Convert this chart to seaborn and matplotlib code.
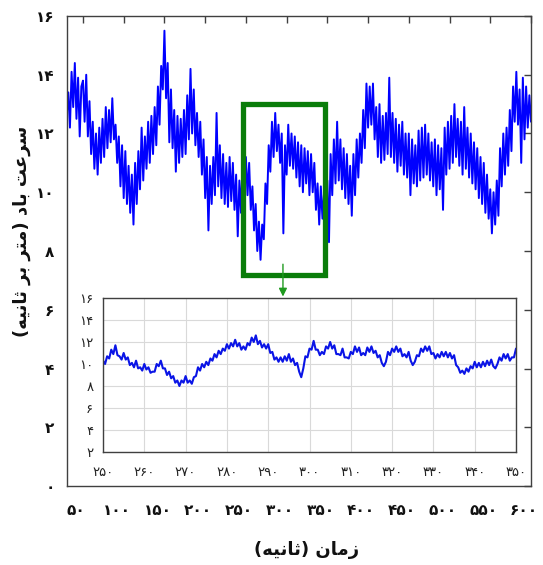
import numpy as np
import pandas as pd
import matplotlib
matplotlib.use("Agg")
import matplotlib.pyplot as plt
import matplotlib.transforms as mtransforms
from matplotlib.patches import Rectangle
from matplotlib.ticker import FuncFormatter, FixedLocator
import seaborn as sns

# Wind speed record (m/s), one sample every 2 s starting at t = 30 s
time_start, time_step = 30, 2
wind_speed = [
    12.6, 13.4, 12.2, 14.1, 12.9, 14.4, 12.5, 13.9, 11.9, 13.6,
    13.8, 12.4, 14.0, 11.9, 13.1, 11.3, 12.4, 10.8, 12.0, 10.6,
    12.2, 11.0, 12.5, 11.2, 12.9, 11.5, 12.8, 11.7, 13.2, 11.8,
    12.3, 11.0, 11.9, 10.2, 11.6, 9.8, 11.4, 9.6, 10.9, 9.3,
    10.6, 8.9, 11.0, 9.6, 11.4, 10.1, 12.2, 10.4, 11.9, 10.8,
    12.4, 11.0, 12.6, 11.3, 12.9, 11.6, 13.6, 12.3, 14.3, 13.5,
    15.5, 13.2, 14.4, 11.7, 13.5, 11.5, 12.8, 10.7, 12.6, 11.0,
    12.5, 11.2, 12.8, 11.3, 13.3, 11.8, 14.2, 12.0, 13.5, 11.6,
    12.7, 11.2, 12.4, 10.6, 11.8, 9.8, 11.2, 8.7, 10.9, 9.6,
    11.2, 9.9, 12.7, 10.2, 11.6, 9.8, 11.3, 9.6, 11.0, 9.5,
    11.2, 9.7, 11.0, 9.4, 10.6, 8.5, 10.4, 9.3, 11.1, 9.6,
    11.2, 9.9, 11.0, 9.4, 10.2, 8.7, 9.6, 8.0, 9.0, 7.7,
    8.9, 8.4, 10.3, 9.6, 11.6, 10.7, 12.4, 11.2, 12.7, 11.4,
    12.3, 11.0, 12.0, 8.6, 11.6, 10.6, 12.3, 10.9, 12.0, 10.8,
    11.9, 10.5, 11.7, 10.2, 11.6, 10.0, 11.5, 10.3, 11.4, 9.9,
    11.3, 10.0, 11.0, 9.4, 10.3, 8.9, 10.2, 9.1, 10.0, 8.8,
    10.4, 8.3, 11.3, 9.9, 11.8, 10.3, 12.4, 10.4, 11.8, 10.1,
    11.5, 9.8, 11.3, 9.6, 10.9, 9.2, 11.3, 9.9, 11.8, 10.5,
    12.0, 11.0, 12.8, 11.5, 13.7, 12.2, 13.6, 12.3, 13.7, 11.8,
    12.9, 11.2, 13.0, 11.0, 12.6, 11.1, 12.7, 11.3, 13.9, 11.2,
    12.7, 11.0, 12.5, 10.7, 12.3, 10.9, 12.4, 10.6, 12.0, 10.5,
    12.0, 9.9, 11.8, 10.3, 11.6, 10.2, 12.1, 10.4, 12.2, 10.5,
    12.3, 10.6, 12.0, 10.4, 11.7, 10.2, 11.8, 9.9, 11.6, 10.1,
    11.5, 9.4, 12.2, 10.6, 12.4, 10.8, 12.6, 11.0, 13.0, 11.2,
    12.5, 10.9, 12.4, 10.6, 12.9, 10.8, 12.2, 10.5, 12.0, 10.3,
    11.7, 10.1, 11.5, 9.8, 11.2, 9.6, 11.0, 9.3, 10.6, 9.1,
    10.1, 8.6, 10.0, 8.9, 10.4, 9.2, 11.5, 10.2, 12.0, 10.6,
    12.2, 10.9, 12.8, 11.4, 13.6, 12.4, 14.1, 12.3, 13.5, 11.0,
    13.9, 11.8, 13.6, 12.2, 13.3, 12.4,
]

# Detailed record between 250 s and 350 s, sampled every 0.5 s
zoom_start, zoom_step = 250, 0.5
zoom_speed = [
    10.3, 10.0, 10.7, 10.5, 11.3, 10.9, 11.7, 10.8, 10.7, 10.4,
    11.0, 10.4, 10.6, 9.9, 10.1, 9.7, 10.3, 9.6, 9.7, 9.4,
    10.0, 9.5, 9.7, 9.2, 9.3, 9.3, 10.0, 9.8, 10.3, 9.6,
    9.6, 9.0, 9.3, 8.7, 8.9, 8.3, 8.5, 8.0, 8.5, 8.3,
    8.9, 8.3, 8.5, 8.2, 8.8, 8.9, 9.7, 9.4, 10.0, 9.7,
    10.2, 9.9, 10.5, 10.3, 10.9, 10.6, 11.2, 10.9, 11.4, 11.2,
    11.8, 11.4, 11.9, 11.6, 12.2, 11.6, 11.9, 11.3, 11.6, 11.3,
    11.9, 11.7, 12.4, 12.0, 12.6, 11.8, 12.1, 11.5, 11.8, 11.4,
    11.8, 11.0, 11.1, 10.4, 10.6, 10.2, 10.6, 10.2, 10.7, 10.3,
    10.9, 10.2, 10.5, 9.9, 10.1, 9.3, 8.8, 9.6, 10.7, 10.6,
    11.4, 11.3, 12.1, 11.3, 11.3, 10.8, 11.1, 10.9, 11.6, 11.4,
    12.0, 11.4, 11.7, 10.9, 10.9, 10.8, 11.4, 10.6, 10.6, 10.5,
    11.1, 10.9, 11.6, 11.1, 11.5, 10.8, 11.0, 10.8, 11.5, 11.1,
    11.6, 11.0, 11.2, 10.6, 10.8, 10.1, 9.8, 10.2, 11.1, 10.8,
    11.4, 11.1, 11.6, 11.1, 11.4, 10.7, 10.9, 10.6, 11.1, 10.3,
    9.9, 10.2, 10.8, 10.7, 11.4, 11.1, 11.6, 11.2, 11.6, 10.9,
    11.0, 10.5, 10.9, 10.6, 11.1, 10.7, 11.1, 10.6, 11.0, 10.5,
    10.8, 9.9, 9.7, 9.2, 9.4, 9.1, 9.6, 9.3, 9.8, 9.6,
    10.2, 9.7, 10.1, 9.7, 10.2, 9.8, 10.3, 9.9, 10.4, 9.8,
    9.6, 10.0, 10.6, 10.3, 10.9, 10.5, 10.9, 10.3, 10.6, 10.6,
    11.4,
]

main_xticks = [50, 100, 150, 200, 250, 300, 350, 400, 450, 500, 550, 600]
main_yticks = [0, 2, 4, 6, 8, 10, 12, 14, 16]
zoom_xticks = [250, 260, 270, 280, 290, 300, 310, 320, 330, 340, 350]
zoom_yticks = [2, 4, 6, 8, 10, 12, 14, 16]

# highlighted window on the full record
box_x = (247, 347)
box_y = (7.2, 13.0)

x_title = "زمان (ثانیه)"
y_title = "سرعت باد (متر بر ثانیه)"

# ---------------------------------------------------------------- helpers
PERSIAN_DIGITS = str.maketrans("0123456789", "۰۱۲۳۴۵۶۷۸۹")


def fa_num(v, _pos=None):
    return str(int(round(v))).translate(PERSIAN_DIGITS)


# contextual glyphs: isolated, final, initial, medial
FORMS = {
    "ا": ("\uFE8D", "\uFE8E"),
    "د": ("\uFEA9", "\uFEAA"),
    "ر": ("\uFEAD", "\uFEAE"),
    "ز": ("\uFEAF", "\uFEB0"),
    "ب": ("\uFE8F", "\uFE90", "\uFE91", "\uFE92"),
    "ت": ("\uFE95", "\uFE96", "\uFE97", "\uFE98"),
    "ث": ("\uFE99", "\uFE9A", "\uFE9B", "\uFE9C"),
    "س": ("\uFEB1", "\uFEB2", "\uFEB3", "\uFEB4"),
    "ع": ("\uFEC9", "\uFECA", "\uFECB", "\uFECC"),
    "م": ("\uFEE1", "\uFEE2", "\uFEE3", "\uFEE4"),
    "ن": ("\uFEE5", "\uFEE6", "\uFEE7", "\uFEE8"),
    "ه": ("\uFEE9", "\uFEEA", "\uFEEB", "\uFEEC"),
    "ی": ("\uFBFC", "\uFBFD", "\uFEF3", "\uFEF4"),
}


def rtl(text):
    """Shape Persian letters and lay the line out left to right."""
    out = []
    for i, ch in enumerate(text):
        if ch not in FORMS:
            out.append(ch)
            continue
        prev = text[i - 1] if i > 0 else ""
        nxt = text[i + 1] if i + 1 < len(text) else ""
        join_prev = prev in FORMS and len(FORMS[prev]) == 4
        join_next = len(FORMS[ch]) == 4 and nxt in FORMS
        forms = FORMS[ch]
        if join_prev and join_next:
            out.append(forms[3])
        elif join_prev:
            out.append(forms[1])
        elif join_next:
            out.append(forms[2])
        else:
            out.append(forms[0])
    visual = "".join(reversed(out))
    return visual.translate(str.maketrans("()", ")("))


# ---------------------------------------------------------------- data frames
full = pd.DataFrame({
    "t": time_start + time_step * np.arange(len(wind_speed)),
    "speed": wind_speed,
})
detail = pd.DataFrame({
    "t": zoom_start + zoom_step * np.arange(len(zoom_speed)),
    "speed": zoom_speed,
})

# ---------------------------------------------------------------- figure
sns.set_theme(style="white")
plt.rcParams["font.family"] = ["DejaVu Sans"]

fig = plt.figure(figsize=(5.43, 5.65), dpi=100)
ax = fig.add_axes([0.1234, 0.1398, 0.8545, 0.8319])

sns.lineplot(data=full, x="t", y="speed", ax=ax, color="#0000ff",
             linewidth=1.4, estimator=None)
ax.set_xlim(30.4, 600)
ax.set_ylim(0, 16)
ax.xaxis.set_major_locator(FixedLocator(main_xticks))
ax.yaxis.set_major_locator(FixedLocator(main_yticks))
ax.xaxis.set_major_formatter(FuncFormatter(fa_num))
ax.yaxis.set_major_formatter(FuncFormatter(fa_num))
ax.tick_params(direction="in", length=5, width=1, color="#404040",
               top=True, right=True, labelsize=11, labelcolor="#111111")
ax.tick_params(axis="x", pad=12)
ax.tick_params(axis="y", pad=9)
shift_left = mtransforms.ScaledTranslation(-5 / 72, 0, fig.dpi_scale_trans)
for tick in ax.xaxis.get_major_ticks():
    tick.label1.set_transform(tick.label1.get_transform() + shift_left)
for lab in ax.get_xticklabels() + ax.get_yticklabels():
    lab.set_fontweight("bold")
for sp in ax.spines.values():
    sp.set_color("#404040")
    sp.set_linewidth(1.0)
ax.set_xlabel("")
ax.set_ylabel("")

ax.add_patch(Rectangle((box_x[0], box_y[0]), box_x[1] - box_x[0],
                       box_y[1] - box_y[0], fill=False,
                       edgecolor="#0a7d0a", linewidth=3.8, zorder=4))
ax.annotate("", xy=(295.5, 6.45), xytext=(295.5, 7.55),
            arrowprops=dict(arrowstyle="-|>", color="#1f9a1f", lw=1.0,
                            mutation_scale=12, shrinkA=0, shrinkB=0),
            zorder=5)

# detail panel
ins = fig.add_axes([0.1897, 0.2, 0.7606, 0.2726])
ins.set_facecolor("white")
sns.lineplot(data=detail, x="t", y="speed", ax=ins, color="#0a14e6",
             linewidth=1.5, estimator=None)
ins.set_xlim(250, 350)
ins.set_ylim(2, 16)
ins.xaxis.set_major_locator(FixedLocator(zoom_xticks))
ins.yaxis.set_major_locator(FixedLocator(zoom_yticks))
ins.xaxis.set_major_formatter(FuncFormatter(fa_num))
ins.yaxis.set_major_formatter(FuncFormatter(fa_num))
ins.grid(True, color="#d9d9d9", linewidth=0.8)
ins.tick_params(length=0, labelsize=9.5, labelcolor="#222222")
ins.tick_params(axis="x", pad=10)
ins.tick_params(axis="y", pad=7)
for sp in ins.spines.values():
    sp.set_color("#404040")
    sp.set_linewidth(1.0)
ins.set_xlabel("")
ins.set_ylabel("")

fig.text(307 / 543, 1 - 550 / 565, rtl(x_title), ha="center", va="center",
         fontsize=13, fontweight="bold", color="#111111")
fig.text(22 / 543, 1 - 231 / 565, rtl(y_title), ha="center", va="center",
         rotation=90, fontsize=13, fontweight="bold", color="#111111")

fig.savefig("out.png", dpi=100)
